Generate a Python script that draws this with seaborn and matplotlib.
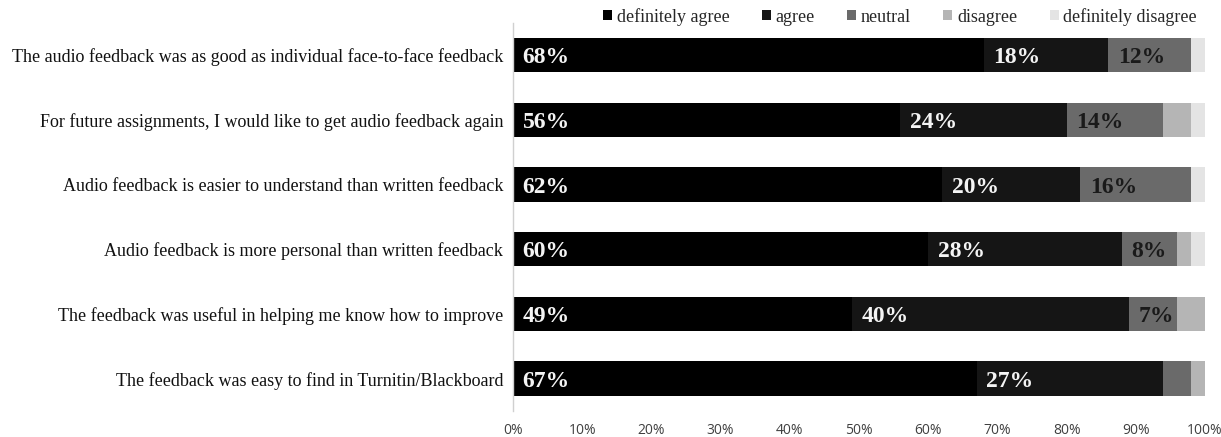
import matplotlib
matplotlib.use("Agg")
import matplotlib.pyplot as plt
from matplotlib.patches import Patch
import seaborn as sns
import pandas as pd
import numpy as np

# Survey statements (top to bottom) and response shares in percent
statements = [
    "The audio feedback was as good as individual face-to-face feedback",
    "For future assignments, I would like to get audio feedback again",
    "Audio feedback is easier to understand than written feedback",
    "Audio feedback is more personal than written feedback",
    "The feedback was useful in helping me know how to improve",
    "The feedback was easy to find in Turnitin/Blackboard",
]
definitely_agree = [68, 56, 62, 60, 49, 67]
agree = [18, 24, 20, 28, 40, 27]
neutral = [12, 14, 16, 8, 7, 4]
disagree = [0, 4, 0, 2, 4, 2]
definitely_disagree = [2, 2, 2, 2, 0, 0]

levels = ["definitely agree", "agree", "neutral", "disagree", "definitely disagree"]
colors = ["#000000", "#151515", "#6a6a6a", "#b5b5b5", "#e4e4e4"]
label_colors = ["#f4f4f4", "#f4f4f4", "#1a1a1a", None, None]
tick_labels = ["0%", "10%", "20%", "30%", "40%", "50%", "60%", "70%", "80%", "90%", "100%"]

sns.set_style("white")
plt.rcParams["font.family"] = ["Liberation Serif", "DejaVu Serif"]

df = pd.DataFrame({
    "statement": statements,
    "definitely agree": definitely_agree,
    "agree": agree,
    "neutral": neutral,
    "disagree": disagree,
    "definitely disagree": definitely_disagree,
})
shares = df[levels].to_numpy(dtype=float)
cum = np.cumsum(shares, axis=1)
for j, lvl in enumerate(levels):
    df["cum_" + lvl] = cum[:, j]

fig = plt.figure(figsize=(12.21, 4.37), dpi=100)
ax = fig.add_axes([0.4201, 0.0595, 0.5668, 0.8885])

# Stacked bars: overlay cumulative totals from the outermost segment inward
for j in range(len(levels) - 1, -1, -1):
    sns.barplot(data=df, x="cum_" + levels[j], y="statement", order=statements,
                orient="h", color=colors[j], saturation=1, width=0.53,
                errorbar=None, linewidth=0, ax=ax)

# Percentage labels inside the three leading segments
for i in range(len(statements)):
    for j in range(3):
        v = shares[i, j]
        if v < 5:
            continue
        left = cum[i, j] - v
        ax.annotate(f"{v:.0f}%", xy=(left, i), xytext=(7, 0),
                    textcoords="offset points", ha="left", va="center_baseline",
                    fontsize=17, fontweight="bold", color=label_colors[j])

ax.set_xlim(0, 100)
ax.set_xticks(np.arange(0, 101, 10))
ax.set_xticklabels(tick_labels, fontsize=10, color="#404040",
                   family=["Open Sans", "DejaVu Sans"])
ax.tick_params(axis="x", length=0, pad=9)
ax.tick_params(axis="y", length=0, pad=7, labelsize=13, labelcolor="#111111")
ax.set_xlabel("")
ax.set_ylabel("")
for side in ["top", "right", "bottom"]:
    ax.spines[side].set_visible(False)
ax.spines["left"].set_color("#d0d0d0")
ax.spines["left"].set_linewidth(1)

handles = [Patch(facecolor=c, edgecolor="none") for c in colors]
fig.legend(handles, levels, loc="center", bbox_to_anchor=(0.737, 0.962),
           ncol=5, frameon=False, fontsize=13, handlelength=0.5,
           handleheight=0.5, handletextpad=0.25, columnspacing=1.8,
           borderaxespad=0, borderpad=0)

fig.savefig("out.png", dpi=100)
